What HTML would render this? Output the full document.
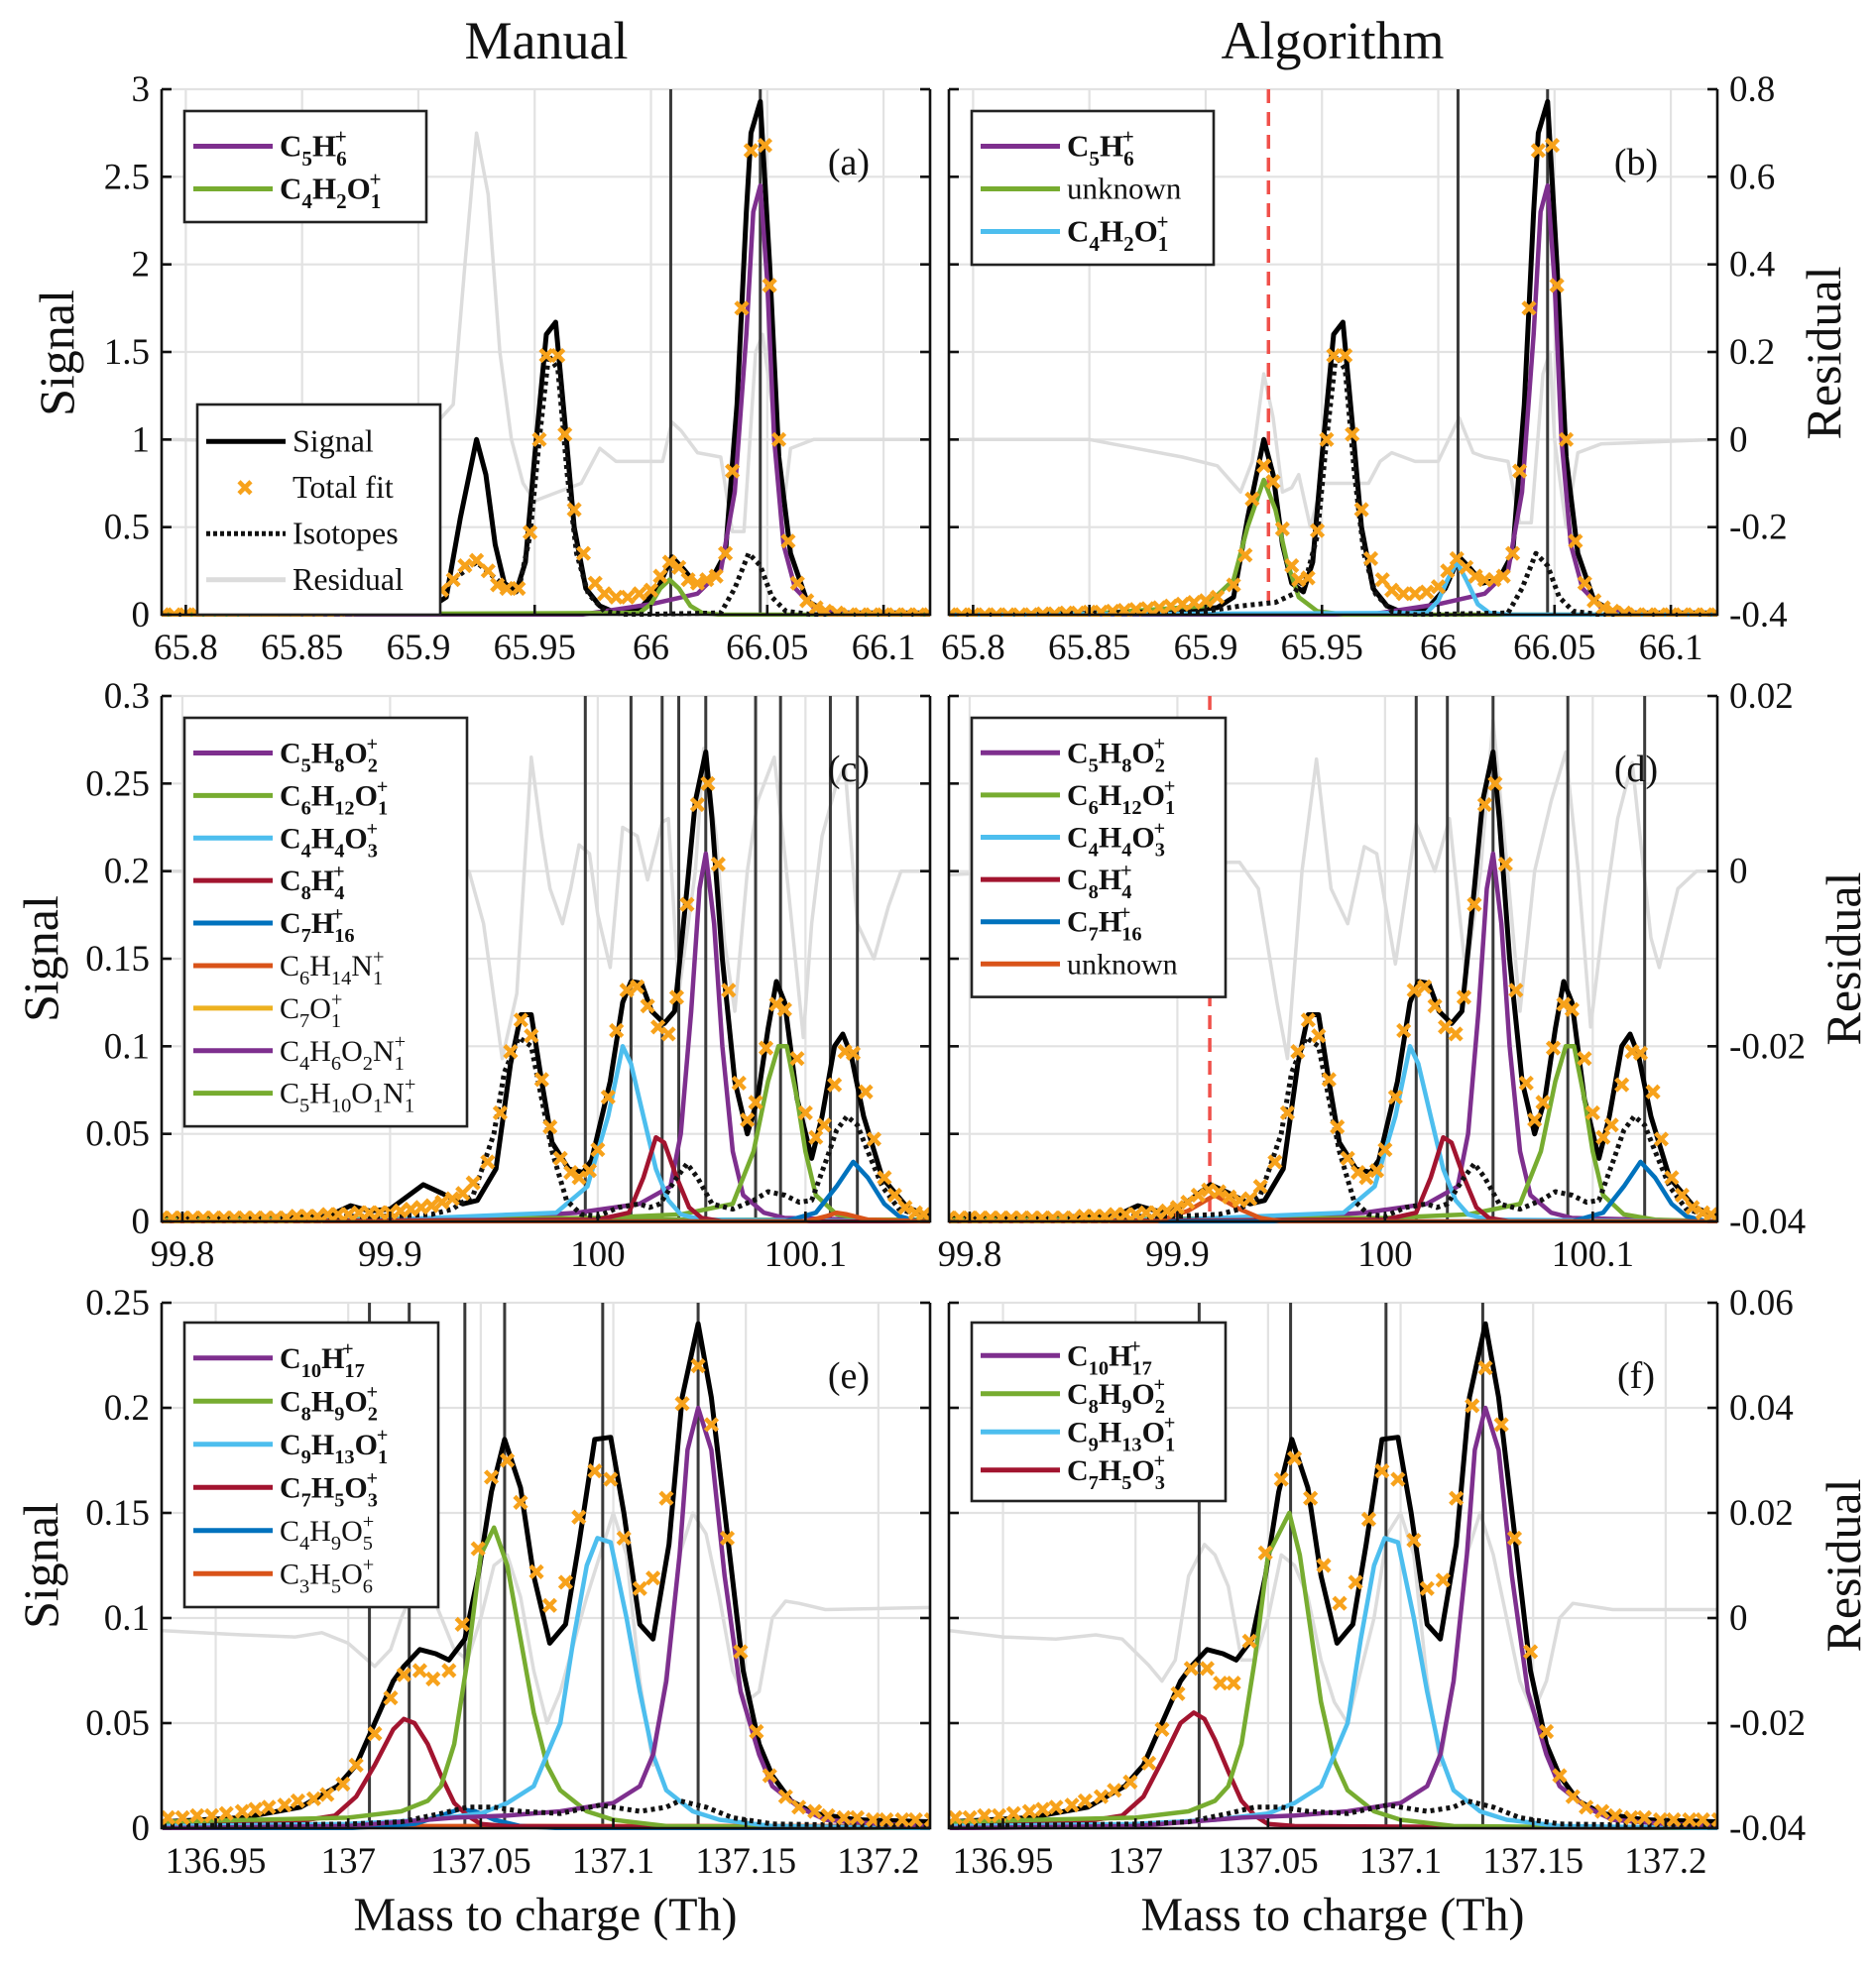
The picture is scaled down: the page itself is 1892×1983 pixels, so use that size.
<!DOCTYPE html>
<html><head><meta charset="utf-8">
<style>
html,body{margin:0;padding:0;background:#fff;}
svg{display:block;font-family:"Liberation Serif","DejaVu Serif",serif;}
svg text{font-family:"Liberation Serif","DejaVu Serif",serif;}
</style></head>
<body>
<svg id="chart" width="1892" height="1983" viewBox="0 0 1892 1983" xmlns="http://www.w3.org/2000/svg" font-family="Liberation Serif, DejaVu Serif, serif"></svg>
<script>
// ---------- DATA ----------
const xTicks1=[65.8,65.85,65.9,65.95,66,66.05,66.1];
const xLabels1=["65.8","65.85","65.9","65.95","66","66.05","66.1"];
const xTicks2=[99.8,99.9,100,100.1];
const xLabels2=["99.8","99.9","100","100.1"];
const xTicks3=[136.95,137,137.05,137.1,137.15,137.2];
const xLabels3=["136.95","137","137.05","137.1","137.15","137.2"];
const yTicks1=[0,0.5,1,1.5,2,2.5,3];
const yLabels1=["0","0.5","1","1.5","2","2.5","3"];
const rTicks1=[-0.4,-0.2,0,0.2,0.4,0.6,0.8];
const rLabels1=["-0.4","-0.2","0","0.2","0.4","0.6","0.8"];
const yTicks2=[0,0.05,0.1,0.15,0.2,0.25,0.3];
const yLabels2=["0","0.05","0.1","0.15","0.2","0.25","0.3"];
const rTicks2=[-0.04,-0.02,0,0.02];
const rLabels2=["-0.04","-0.02","0","0.02"];
const yTicks3=[0,0.05,0.1,0.15,0.2,0.25];
const yLabels3=["0","0.05","0.1","0.15","0.2","0.25"];
const rTicks3=[-0.04,-0.02,0,0.02,0.04,0.06];
const rLabels3=["-0.04","-0.02","0","0.02","0.04","0.06"];

// Row 1 (m/z 66)
const sig1=[[65.79,0],[65.88,0.01],[65.905,0.04],[65.912,0.1],[65.918,0.55],[65.925,1.0],[65.929,0.8],[65.933,0.4],[65.937,0.18],[65.942,0.13],[65.946,0.3],[65.95,0.9],[65.955,1.6],[65.959,1.67],[65.963,1.1],[65.967,0.5],[65.972,0.15],[65.978,0.05],[65.985,0.01],[65.995,0.03],[66.003,0.15],[66.009,0.33],[66.014,0.26],[66.019,0.18],[66.026,0.2],[66.032,0.35],[66.037,1.2],[66.041,2.3],[66.043,2.75],[66.047,2.93],[66.051,2.0],[66.055,0.9],[66.06,0.35],[66.067,0.08],[66.075,0.02],[66.085,0.01],[66.12,0.01]];
const fitA=[[65.79,0],[65.795,0],[65.8,0],[65.805,0],[65.81,0],[65.815,0],[65.82,0],[65.825,0],[65.83,0.005],[65.835,0.005],[65.84,0.01],[65.845,0.01],[65.85,0.015],[65.855,0.015],[65.86,0.02],[65.865,0.025],[65.87,0.03],[65.875,0.035],[65.88,0.04],[65.885,0.05],[65.89,0.06],[65.895,0.07],[65.9,0.08],[65.905,0.1],[65.91,0.14],[65.915,0.2],[65.92,0.28],[65.925,0.31],[65.93,0.25],[65.934,0.17],[65.938,0.15],[65.943,0.15],[65.948,0.47],[65.952,1.0],[65.955,1.48],[65.96,1.48],[65.963,1.03],[65.967,0.6],[65.971,0.35],[65.976,0.18],[65.98,0.12],[65.985,0.1],[65.99,0.1],[65.995,0.12],[66.0,0.14],[66.004,0.22],[66.008,0.3],[66.012,0.27],[66.016,0.2],[66.02,0.18],[66.024,0.2],[66.028,0.22],[66.032,0.35],[66.035,0.82],[66.039,1.75],[66.043,2.65],[66.049,2.68],[66.051,1.88],[66.055,1.0],[66.059,0.42],[66.063,0.18],[66.067,0.08],[66.071,0.04],[66.075,0.02],[66.08,0.01],[66.085,0],[66.09,0],[66.095,0],[66.1,0],[66.105,0],[66.11,0],[66.115,0],[66.12,0]];
const fitB=[[65.79,0],[65.795,0],[65.8,0],[65.805,0],[65.81,0],[65.815,0],[65.82,0],[65.825,0],[65.83,0.005],[65.835,0.005],[65.84,0.01],[65.845,0.01],[65.85,0.015],[65.855,0.015],[65.86,0.02],[65.865,0.025],[65.87,0.03],[65.875,0.035],[65.88,0.04],[65.885,0.05],[65.89,0.06],[65.895,0.07],[65.9,0.08],[65.905,0.1],[65.912,0.17],[65.917,0.34],[65.92,0.66],[65.925,0.85],[65.929,0.76],[65.933,0.49],[65.937,0.28],[65.94,0.2],[65.944,0.21],[65.948,0.48],[65.952,1.0],[65.955,1.48],[65.96,1.48],[65.963,1.03],[65.967,0.6],[65.971,0.32],[65.976,0.2],[65.98,0.14],[65.985,0.12],[65.99,0.12],[65.995,0.13],[66.0,0.16],[66.004,0.25],[66.008,0.32],[66.012,0.27],[66.016,0.22],[66.02,0.2],[66.024,0.2],[66.028,0.22],[66.032,0.35],[66.035,0.82],[66.039,1.75],[66.043,2.65],[66.049,2.68],[66.051,1.88],[66.055,1.0],[66.059,0.42],[66.063,0.18],[66.067,0.08],[66.071,0.04],[66.075,0.02],[66.08,0.01],[66.085,0],[66.09,0],[66.095,0],[66.1,0],[66.105,0],[66.11,0],[66.115,0],[66.12,0]];
const isoA=[[65.79,0],[65.88,0.03],[65.905,0.07],[65.915,0.2],[65.925,0.3],[65.932,0.22],[65.94,0.13],[65.944,0.2],[65.948,0.45],[65.952,1.0],[65.956,1.48],[65.96,1.4],[65.964,0.8],[65.968,0.35],[65.973,0.12],[65.98,0.02],[65.99,0],[66.03,0.01],[66.036,0.15],[66.042,0.35],[66.047,0.28],[66.052,0.1],[66.058,0.02],[66.07,0],[66.12,0]];
const isoB=[[65.79,0],[65.9,0.02],[65.915,0.05],[65.93,0.07],[65.938,0.12],[65.944,0.25],[65.948,0.45],[65.952,1.0],[65.956,1.48],[65.96,1.4],[65.964,0.8],[65.968,0.35],[65.973,0.12],[65.98,0.02],[65.99,0],[66.03,0.01],[66.036,0.15],[66.042,0.35],[66.047,0.28],[66.052,0.1],[66.058,0.02],[66.07,0],[66.12,0]];
const c5h6=[[65.79,0],[65.97,0],[65.98,0.02],[66.0,0.06],[66.02,0.12],[66.03,0.25],[66.036,0.7],[66.041,1.6],[66.044,2.3],[66.047,2.45],[66.05,1.9],[66.053,1.0],[66.057,0.4],[66.062,0.15],[66.07,0.04],[66.08,0.01],[66.12,0]];
const c4h2o=[[65.79,0],[65.995,0.01],[66.0,0.06],[66.004,0.15],[66.008,0.2],[66.012,0.15],[66.017,0.05],[66.022,0.01],[66.03,0],[66.12,0]];
const c4h2oB=[[65.79,0],[65.995,0.01],[66.0,0.08],[66.004,0.2],[66.008,0.3],[66.012,0.2],[66.017,0.06],[66.022,0.01],[66.03,0],[66.12,0]];
const unknownB=[[65.79,0],[65.85,0.005],[65.9,0.05],[65.912,0.2],[65.918,0.5],[65.925,0.77],[65.93,0.6],[65.935,0.3],[65.94,0.1],[65.948,0.02],[65.96,0],[66.12,0]];
const resA=[[65.79,0],[65.9,-0.008],[65.915,0.08],[65.92,0.4],[65.925,0.7],[65.93,0.56],[65.935,0.2],[65.94,0],[65.945,-0.1],[65.95,-0.14],[65.96,-0.12],[65.97,-0.1],[65.978,-0.02],[65.985,-0.05],[66.0,-0.05],[66.005,-0.05],[66.009,0.04],[66.013,0.02],[66.02,-0.03],[66.03,-0.04],[66.035,-0.21],[66.04,-0.21],[66.045,0.2],[66.048,0.24],[66.052,0.08],[66.056,-0.2],[66.06,-0.02],[66.07,0],[66.12,0]];
const resB=[[65.79,0],[65.85,0],[65.86,-0.01],[65.89,-0.04],[65.905,-0.06],[65.915,-0.12],[65.92,-0.05],[65.925,0.15],[65.929,0.05],[65.933,-0.12],[65.937,-0.11],[65.94,-0.08],[65.945,-0.2],[65.95,-0.1],[65.96,-0.1],[65.97,-0.1],[65.975,-0.05],[65.98,-0.03],[65.99,-0.05],[66.0,-0.05],[66.009,0.05],[66.015,-0.03],[66.02,-0.04],[66.03,-0.05],[66.035,-0.19],[66.04,-0.19],[66.045,0.15],[66.048,0.2],[66.05,0],[66.055,-0.2],[66.06,-0.03],[66.07,-0.01],[66.12,0]];
const vA=[66.0085,66.047];
const vB=[66.0085,66.047];
const redB=[65.927];

// Row 2 (m/z 100)
const sig2=[[99.79,0.002],[99.87,0.003],[99.881,0.009],[99.89,0.006],[99.9,0.007],[99.916,0.021],[99.925,0.016],[99.935,0.01],[99.942,0.012],[99.951,0.03],[99.958,0.09],[99.963,0.118],[99.968,0.118],[99.973,0.08],[99.978,0.045],[99.986,0.03],[99.993,0.028],[99.997,0.035],[100.006,0.08],[100.012,0.125],[100.016,0.137],[100.021,0.136],[100.026,0.12],[100.032,0.113],[100.037,0.12],[100.043,0.19],[100.047,0.24],[100.052,0.268],[100.055,0.23],[100.06,0.15],[100.066,0.08],[100.072,0.05],[100.077,0.07],[100.082,0.11],[100.086,0.137],[100.09,0.125],[100.096,0.07],[100.103,0.036],[100.108,0.06],[100.114,0.1],[100.118,0.107],[100.122,0.095],[100.128,0.06],[100.137,0.025],[100.149,0.008],[100.16,0.003]];
const fitC=[[99.79,0.002],[99.795,0.002],[99.8,0.002],[99.805,0.002],[99.81,0.002],[99.815,0.002],[99.82,0.002],[99.825,0.002],[99.83,0.002],[99.835,0.002],[99.84,0.002],[99.845,0.002],[99.85,0.002],[99.855,0.003],[99.86,0.003],[99.865,0.003],[99.87,0.004],[99.875,0.004],[99.88,0.004],[99.885,0.005],[99.89,0.005],[99.895,0.005],[99.9,0.005],[99.905,0.006],[99.91,0.007],[99.915,0.008],[99.92,0.009],[99.925,0.011],[99.93,0.013],[99.935,0.016],[99.94,0.022],[99.947,0.034],[99.953,0.062],[99.958,0.097],[99.963,0.115],[99.968,0.106],[99.973,0.081],[99.977,0.054],[99.982,0.036],[99.987,0.028],[99.991,0.025],[99.996,0.029],[100.0,0.041],[100.005,0.071],[100.009,0.109],[100.014,0.132],[100.019,0.134],[100.024,0.123],[100.029,0.111],[100.034,0.107],[100.038,0.128],[100.043,0.181],[100.048,0.238],[100.053,0.25],[100.058,0.204],[100.063,0.132],[100.068,0.079],[100.072,0.058],[100.076,0.068],[100.081,0.099],[100.086,0.124],[100.09,0.121],[100.096,0.093],[100.1,0.062],[100.105,0.048],[100.109,0.055],[100.114,0.078],[100.119,0.097],[100.123,0.096],[100.129,0.074],[100.133,0.047],[100.138,0.025],[100.143,0.015],[100.148,0.008],[100.153,0.005],[100.157,0.004]];
const fitD=[[99.79,0.002],[99.795,0.002],[99.8,0.002],[99.805,0.002],[99.81,0.002],[99.815,0.002],[99.82,0.002],[99.825,0.002],[99.83,0.002],[99.835,0.002],[99.84,0.002],[99.845,0.002],[99.85,0.002],[99.855,0.003],[99.86,0.003],[99.865,0.003],[99.87,0.004],[99.875,0.004],[99.88,0.004],[99.885,0.005],[99.89,0.005],[99.895,0.006],[99.9,0.008],[99.905,0.011],[99.91,0.015],[99.915,0.018],[99.92,0.017],[99.925,0.014],[99.93,0.012],[99.935,0.013],[99.94,0.02],[99.947,0.034],[99.953,0.062],[99.958,0.097],[99.963,0.115],[99.968,0.106],[99.973,0.081],[99.977,0.054],[99.982,0.036],[99.987,0.028],[99.991,0.025],[99.996,0.029],[100.0,0.041],[100.005,0.071],[100.009,0.109],[100.014,0.132],[100.019,0.134],[100.024,0.123],[100.029,0.111],[100.034,0.107],[100.038,0.128],[100.043,0.181],[100.048,0.238],[100.053,0.25],[100.058,0.204],[100.063,0.132],[100.068,0.079],[100.072,0.058],[100.076,0.068],[100.081,0.099],[100.086,0.124],[100.09,0.121],[100.096,0.093],[100.1,0.062],[100.105,0.048],[100.109,0.055],[100.114,0.078],[100.119,0.097],[100.123,0.096],[100.129,0.074],[100.133,0.047],[100.138,0.025],[100.143,0.015],[100.148,0.008],[100.153,0.005],[100.157,0.004]];
const iso2=[[99.79,0.002],[99.9,0.003],[99.92,0.004],[99.93,0.007],[99.94,0.015],[99.95,0.05],[99.955,0.085],[99.962,0.105],[99.968,0.1],[99.973,0.07],[99.978,0.04],[99.985,0.012],[99.992,0.004],[100.0,0.003],[100.01,0.008],[100.02,0.01],[100.025,0.008],[100.03,0.01],[100.038,0.025],[100.043,0.033],[100.048,0.025],[100.055,0.01],[100.065,0.007],[100.075,0.012],[100.082,0.017],[100.09,0.015],[100.097,0.011],[100.103,0.012],[100.11,0.035],[100.115,0.052],[100.12,0.06],[100.125,0.055],[100.13,0.04],[100.137,0.02],[100.145,0.007],[100.16,0.002]];
const c5h8o2=[[99.79,0],[99.95,0.002],[99.99,0.005],[100.02,0.01],[100.035,0.02],[100.04,0.05],[100.045,0.12],[100.049,0.19],[100.052,0.21],[100.056,0.17],[100.06,0.1],[100.065,0.04],[100.07,0.015],[100.08,0.005],[100.09,0.002],[100.16,0]];
const c4h4o3=[[99.79,0],[99.9,0.001],[99.98,0.005],[99.995,0.02],[100.005,0.06],[100.012,0.1],[100.016,0.09],[100.022,0.06],[100.028,0.03],[100.034,0.012],[100.04,0.004],[100.05,0.001],[100.16,0]];
const c8h4=[[99.79,0],[100.0,0.001],[100.015,0.005],[100.022,0.025],[100.028,0.048],[100.032,0.045],[100.038,0.025],[100.044,0.008],[100.05,0.002],[100.06,0],[100.16,0]];
const c7h16=[[99.79,0],[100.09,0],[100.105,0.005],[100.115,0.02],[100.123,0.034],[100.13,0.025],[100.138,0.01],[100.145,0.003],[100.155,0],[100.16,0]];
const c6h12o=[[99.79,0.001],[100.0,0.002],[100.04,0.004],[100.065,0.01],[100.075,0.04],[100.082,0.08],[100.087,0.1],[100.091,0.1],[100.096,0.07],[100.1,0.04],[100.105,0.015],[100.115,0.004],[100.13,0.001],[100.16,0]];
const c6h14n=[[99.79,0],[100.1,0],[100.11,0.003],[100.115,0.005],[100.12,0.004],[100.13,0.001],[100.16,0]];
const c7o=[[99.79,0.0005],[100.16,0.0005]];
const c4h6o2n=[[99.79,0.0008],[100.16,0.0008]];
const c5h10on=[[99.79,0.001],[100.16,0.001]];
const unknownD=[[99.79,0],[99.89,0],[99.905,0.006],[99.918,0.015],[99.93,0.007],[99.94,0.002],[99.95,0],[100.16,0]];
const resC=[[99.79,0],[99.938,0],[99.945,-0.006],[99.954,-0.0214],[99.961,-0.014],[99.968,0.013],[99.973,0.004],[99.977,-0.002],[99.983,-0.006],[99.987,-0.002],[99.991,0.003],[99.996,0.002],[100.0,-0.005],[100.006,-0.011],[100.012,0.005],[100.019,0.004],[100.024,-0.001],[100.031,0.0056],[100.034,0.006],[100.039,-0.014],[100.047,0],[100.051,0.014],[100.057,0.004],[100.061,-0.008],[100.066,-0.016],[100.072,0],[100.077,0.008],[100.085,0.013],[100.09,0.002],[100.099,-0.019],[100.103,-0.006],[100.108,0.004],[100.115,0.01],[100.119,0.012],[100.125,-0.006],[100.133,-0.01],[100.14,-0.004],[100.146,0],[100.16,0]];
const resD=[[99.79,-0.0004],[99.925,0.001],[99.93,0.001],[99.939,-0.002],[99.948,-0.015],[99.953,-0.0214],[99.96,0],[99.967,0.0128],[99.974,-0.002],[99.982,-0.006],[99.99,0.0028],[99.996,0.002],[100.005,-0.0106],[100.015,0.0054],[100.024,0],[100.031,0.006],[100.039,-0.012],[100.046,0],[100.052,0.0172],[100.059,0],[100.065,-0.016],[100.072,0],[100.08,0.008],[100.087,0.0136],[100.093,0],[100.099,-0.0178],[100.106,-0.004],[100.112,0.006],[100.119,0.0124],[100.128,-0.0076],[100.132,-0.011],[100.141,-0.002],[100.15,0],[100.16,0]];
const vC=[99.994,100.016,100.031,100.039,100.052,100.076,100.088,100.112,100.125];
const vD=[100.015,100.03,100.052,100.088,100.125];
const redD=[99.9156];

// Row 3 (m/z 137)
const sig3=[[136.93,0.003],[136.96,0.005],[136.982,0.01],[136.996,0.02],[137.003,0.03],[137.01,0.05],[137.017,0.07],[137.021,0.077],[137.027,0.085],[137.033,0.083],[137.038,0.08],[137.044,0.09],[137.049,0.12],[137.054,0.16],[137.059,0.185],[137.065,0.162],[137.07,0.12],[137.076,0.088],[137.082,0.097],[137.087,0.135],[137.093,0.185],[137.099,0.186],[137.104,0.15],[137.11,0.097],[137.115,0.09],[137.121,0.135],[137.126,0.205],[137.132,0.24],[137.137,0.205],[137.143,0.14],[137.149,0.075],[137.155,0.04],[137.16,0.025],[137.167,0.013],[137.176,0.007],[137.192,0.004],[137.22,0.003]];
const fitE=[[136.932,0.005],[136.9375,0.005],[136.943,0.006],[136.9485,0.006],[136.954,0.007],[136.96,0.008],[136.965,0.009],[136.97,0.01],[136.976,0.011],[136.981,0.013],[136.987,0.014],[136.992,0.016],[136.998,0.021],[137.003,0.03],[137.01,0.045],[137.016,0.062],[137.021,0.073],[137.027,0.075],[137.032,0.071],[137.038,0.075],[137.043,0.097],[137.049,0.133],[137.054,0.167],[137.06,0.175],[137.065,0.155],[137.071,0.122],[137.076,0.106],[137.082,0.117],[137.087,0.148],[137.093,0.17],[137.099,0.166],[137.104,0.138],[137.11,0.114],[137.115,0.119],[137.12,0.157],[137.126,0.202],[137.132,0.22],[137.137,0.192],[137.143,0.138],[137.148,0.084],[137.154,0.046],[137.159,0.025],[137.165,0.015],[137.17,0.01],[137.176,0.008],[137.181,0.006],[137.187,0.005],[137.192,0.005],[137.198,0.004],[137.203,0.004],[137.209,0.004],[137.214,0.004],[137.22,0.004]];
const fitF=[[136.932,0.005],[136.9375,0.005],[136.943,0.006],[136.9485,0.006],[136.954,0.007],[136.96,0.008],[136.965,0.009],[136.97,0.01],[136.976,0.011],[136.981,0.013],[136.987,0.015],[136.992,0.018],[136.998,0.022],[137.005,0.031],[137.01,0.047],[137.016,0.064],[137.021,0.076],[137.027,0.076],[137.032,0.069],[137.037,0.069],[137.043,0.089],[137.049,0.131],[137.055,0.166],[137.06,0.176],[137.066,0.157],[137.071,0.125],[137.077,0.107],[137.083,0.117],[137.088,0.147],[137.093,0.17],[137.099,0.166],[137.105,0.137],[137.11,0.114],[137.116,0.118],[137.121,0.157],[137.127,0.201],[137.132,0.219],[137.138,0.192],[137.143,0.138],[137.149,0.084],[137.155,0.046],[137.16,0.025],[137.165,0.015],[137.17,0.01],[137.176,0.008],[137.181,0.006],[137.187,0.005],[137.192,0.005],[137.198,0.004],[137.203,0.004],[137.209,0.004],[137.214,0.004],[137.22,0.004]];
const iso3=[[136.93,0.001],[137.0,0.002],[137.02,0.003],[137.035,0.007],[137.045,0.01],[137.055,0.01],[137.065,0.008],[137.08,0.007],[137.095,0.011],[137.105,0.009],[137.11,0.008],[137.12,0.01],[137.125,0.013],[137.135,0.01],[137.145,0.005],[137.16,0.002],[137.22,0.001]];
const c10h17=[[136.93,0],[137.0,0.001],[137.04,0.005],[137.06,0.006],[137.08,0.008],[137.1,0.012],[137.11,0.02],[137.115,0.035],[137.12,0.07],[137.125,0.13],[137.128,0.18],[137.132,0.2],[137.137,0.18],[137.142,0.12],[137.148,0.065],[137.155,0.035],[137.16,0.02],[137.17,0.01],[137.18,0.004],[137.2,0.002],[137.22,0.001]];
const c8h9o2=[[136.93,0.003],[137.0,0.005],[137.02,0.008],[137.03,0.013],[137.035,0.02],[137.04,0.04],[137.045,0.08],[137.05,0.13],[137.055,0.143],[137.06,0.125],[137.065,0.09],[137.07,0.055],[137.075,0.03],[137.08,0.018],[137.09,0.008],[137.1,0.004],[137.12,0.001],[137.22,0]];
const c8h9o2F=[[136.93,0.003],[137.0,0.005],[137.02,0.008],[137.03,0.013],[137.035,0.02],[137.04,0.04],[137.045,0.08],[137.05,0.13],[137.058,0.15],[137.062,0.13],[137.066,0.095],[137.07,0.06],[137.075,0.032],[137.08,0.018],[137.09,0.008],[137.1,0.004],[137.12,0.001],[137.22,0]];
const c9h13o=[[136.93,0.001],[137.0,0.002],[137.03,0.004],[137.05,0.007],[137.06,0.012],[137.07,0.02],[137.08,0.05],[137.085,0.09],[137.09,0.125],[137.094,0.138],[137.099,0.136],[137.105,0.1],[137.11,0.065],[137.115,0.035],[137.12,0.018],[137.13,0.008],[137.14,0.004],[137.16,0.001],[137.22,0]];
const c7h5o3=[[136.93,0.001],[136.98,0.003],[136.995,0.006],[137.003,0.015],[137.01,0.03],[137.017,0.047],[137.021,0.052],[137.025,0.05],[137.03,0.04],[137.035,0.025],[137.04,0.012],[137.045,0.006],[137.05,0.002],[137.06,0.001],[137.22,0]];
const c7h5o3F=[[136.93,0.001],[136.98,0.003],[136.995,0.006],[137.003,0.015],[137.01,0.032],[137.017,0.05],[137.022,0.055],[137.026,0.052],[137.03,0.042],[137.035,0.027],[137.04,0.013],[137.045,0.006],[137.05,0.002],[137.06,0.001],[137.22,0]];
const c4h9o5=[[136.93,0],[137.0,0],[137.025,0.002],[137.035,0.006],[137.042,0.009],[137.048,0.008],[137.055,0.004],[137.065,0.001],[137.08,0],[137.22,0]];
const c3h5o6=[[136.93,0.001],[137.22,0.001]];
const resE=[[136.93,-0.0024],[136.96,-0.0032],[136.98,-0.0036],[136.99,-0.0028],[137.0,-0.0048],[137.01,-0.0092],[137.016,-0.006],[137.02,0],[137.027,0.008],[137.032,0.004],[137.04,-0.006],[137.045,-0.008],[137.05,0],[137.055,0.01],[137.06,0.012],[137.065,0.004],[137.07,-0.01],[137.075,-0.02],[137.08,-0.014],[137.09,0.004],[137.1,0.02],[137.105,0.012],[137.11,-0.012],[137.115,-0.028],[137.12,-0.01],[137.125,0.012],[137.13,0.02],[137.135,0.016],[137.14,0.004],[137.145,-0.01],[137.15,-0.016],[137.155,-0.014],[137.16,0],[137.165,0.0032],[137.17,0.0028],[137.18,0.0016],[137.22,0.002]];
const resF=[[136.93,-0.0024],[136.95,-0.0036],[136.97,-0.004],[136.985,-0.0032],[136.995,-0.004],[137.005,-0.009],[137.01,-0.012],[137.015,-0.008],[137.02,0.008],[137.026,0.014],[137.03,0.012],[137.035,0.006],[137.04,-0.008],[137.045,-0.008],[137.05,0],[137.055,0.012],[137.06,0.01],[137.065,0.004],[137.07,-0.008],[137.075,-0.016],[137.08,-0.02],[137.09,0],[137.095,0.016],[137.1,0.02],[137.105,0.012],[137.11,-0.012],[137.115,-0.028],[137.12,-0.012],[137.125,0.012],[137.13,0.02],[137.135,0.012],[137.14,0],[137.145,-0.012],[137.15,-0.018],[137.155,-0.012],[137.16,0],[137.165,0.0028],[137.17,0.0024],[137.18,0.0016],[137.22,0.0016]];
const vE=[137.008,137.023,137.044,137.059,137.096,137.132];
const vF=[137.024,137.0585,137.0945,137.131];

// ---------- DRAWING ----------
const NS='http://www.w3.org/2000/svg';
const svg=document.getElementById('chart');
const FONT='Liberation Serif, DejaVu Serif, serif';
const PURPLE='#7E2F8E',GREEN='#77AC30',CYAN='#4DBEEE',DRED='#A2142F',BLUE='#0072BD',ORANGE='#D95319',YELLOW='#EDB120',FITC='#F7A21B';
function mk(tag,attrs,parent){const e=document.createElementNS(NS,tag);for(const k in attrs)e.setAttribute(k,attrs[k]);(parent||svg).appendChild(e);return e;}
function txt(parent,x,y,s,size,anchor,extra){const t=mk('text',{x:x,y:y,'font-size':size,'font-family':FONT,'text-anchor':anchor||'start',fill:'#111'},parent);if(extra)for(const k in extra)t.setAttribute(k,extra[k]);t.textContent=s;return t;}

function formula(parent,x,y,spec,bold,size){
  const t=mk('text',{x:x,y:y,'font-size':size,'font-family':FONT,fill:'#111'},parent);
  if(bold)t.setAttribute('font-weight','bold');
  if(spec.indexOf('+')<0){t.textContent=spec;return t;}
  const body=spec.replace('+','');
  const toks=body.match(/[A-Z][a-z]?\d*/g);
  const sub=size*0.68,down=size*0.3;let lastDigits=0;
  toks.forEach((tk,i)=>{
    const m=tk.match(/([A-Z][a-z]?)(\d*)/);
    const a=mk('tspan',{},t);a.textContent=m[1];
    if(i>0&&lastDigits>0)a.setAttribute('dy',-down);
    if(m[2]){const b=mk('tspan',{'font-size':sub,dy:down},t);b.textContent=m[2];lastDigits=m[2].length;}else lastDigits=0;
  });
  const p=mk('tspan',{'font-size':sub},t);
  if(lastDigits>0){p.setAttribute('dx',-(lastDigits*sub*(bold?0.56:0.5)));p.setAttribute('dy',-size*0.72);}
  else p.setAttribute('dy',-size*0.42);
  p.textContent='+';
  return t;
}

function panel(p){
  const g=mk('g',{});
  
  
  const x0=p.x0,y0=p.y0,w=775,h=530;
  const sx=v=>x0+(v-p.xd[0])/(p.xd[1]-p.xd[0])*w;
  const sy=v=>y0+h-(v-p.yd[0])/(p.yd[1]-p.yd[0])*h;
  const sr=v=>y0+h-(v-p.rd[0])/(p.rd[1]-p.rd[0])*h;
  const cid='clip-'+p.name;
  const cp=mk('clipPath',{id:cid},g);mk('rect',{x:x0,y:y0-2,width:w,height:h+4},cp);
  const grid=mk('g',{stroke:'#e2e2e2','stroke-width':2.2},g);
  
  
  p.xt.forEach(v=>mk('line',{x1:sx(v),x2:sx(v),y1:y0,y2:y0+h},grid));
  p.yt.forEach(v=>mk('line',{x1:x0,x2:x0+w,y1:sy(v),y2:sy(v)},grid));
  const plot=mk('g',{'clip-path':'url(#'+cid+')'},g);
  const line=(d,f,attrs,name)=>{const pl=mk('polyline',Object.assign({fill:'none','stroke-linejoin':'round',points:d.map(q=>sx(q[0]).toFixed(1)+','+f(q[1]).toFixed(1)).join(' ')},attrs),plot);return pl;};
  line(p.res,sr,{stroke:'#dcdcdc','stroke-width':3.5},'residual-line');
  p.vl.forEach(v=>{const l=mk('line',{x1:sx(v),x2:sx(v),y1:y0,y2:y0+h,stroke:'#3a3a3a','stroke-width':3},plot);});
  (p.red||[]).forEach(v=>{const l=mk('line',{x1:sx(v),x2:sx(v),y1:y0,y2:y0+h,stroke:'#F0504A','stroke-width':3.5,'stroke-dasharray':'14 9'},plot);});
  line(p.sig,sy,{stroke:'#000','stroke-width':5},'signal-line');
  p.comps.forEach(c=>line(c[0],sy,{stroke:c[1],'stroke-width':4.5},'component-'+c[2]));
  line(p.iso,sy,{stroke:'#111','stroke-width':5,'stroke-dasharray':'4 4'},'isotopes-line');
  const mg=mk('g',{stroke:FITC,'stroke-width':4.5,'stroke-linecap':'butt'},plot);
  
  
  p.fit.forEach(q=>{const cx=sx(q[0]),cy=sy(q[1]),r=6;mk('path',{d:`M${cx-r},${cy-r}L${cx+r},${cy+r}M${cx-r},${cy+r}L${cx+r},${cy-r}`},mg);});
  const ax=mk('g',{stroke:'#111','stroke-width':2.6,fill:'none'},g);
  
  
  mk('path',{d:`M${x0},${y0}V${y0+h}H${x0+w}V${y0}`},ax);
  p.yt.forEach(v=>{mk('line',{x1:x0,x2:x0+10,y1:sy(v),y2:sy(v)},ax);if(!p.right)mk('line',{x1:x0+w,x2:x0+w-10,y1:sy(v),y2:sy(v)},ax);});
  if(p.right)p.rt.forEach(v=>mk('line',{x1:x0+w,x2:x0+w-10,y1:sr(v),y2:sr(v)},ax));
  p.xt.forEach(v=>mk('line',{x1:sx(v),x2:sx(v),y1:y0+h,y2:y0+h-10},ax));
  const tl=mk('g',{},g);
  
  
  p.xt.forEach((v,i)=>txt(tl,sx(v),y0+h+45,p.xl[i],37,'middle'));
  if(!p.right)p.yt.forEach((v,i)=>txt(tl,x0-12,sy(v)+12,p.yl[i],37,'end'));
  else p.rt.forEach((v,i)=>txt(tl,x0+w+12,sr(v)+12,p.rl[i],37,'start'));
  const pl=txt(g,x0+w-82,y0+86,p.label,38,'middle');
  
  
  return g;
}

function legend(x,y,w,entries,step,size,name){
  const g=mk('g',{});
  
  
  const h=entries.length*step+26;
  mk('rect',{x:x,y:y,width:w,height:h,fill:'#fff',stroke:'#222','stroke-width':2.6},g);
  entries.forEach((e,i)=>{
    const cy=y+13+step*(i+0.5)+1;
    const it=mk('g',{},g);
    
    
    if(e.type==='marker'){const cx=x+48;mk('path',{d:`M${cx-6},${cy-6}L${cx+6},${cy+6}M${cx-6},${cy+6}L${cx+6},${cy-6}`,stroke:FITC,'stroke-width':4.5},it);}
    else mk('line',{x1:x+9,x2:x+89,y1:cy,y2:cy,stroke:e.color,'stroke-width':5,'stroke-dasharray':e.type==='dot'?'4 3':'none'},it);
    formula(it,x+96,cy+10,e.label,e.bold,size);
  });
}

const L=163,R=957,T1=90,T2=702,T3=1314;
const X1=[65.7896,66.12],X2=[99.79,100.16],X3=[136.9296,137.2195];
panel({name:'panel-a',label:'(a)',x0:L,y0:T1,xd:X1,yd:[0,3],rd:[-0.4,0.8],xt:xTicks1,xl:xLabels1,yt:yTicks1,yl:yLabels1,rt:rTicks1,rl:rLabels1,right:false,
  sig:sig1,fit:fitA,iso:isoA,res:resA,vl:vA,comps:[[c5h6,PURPLE,'c5h6'],[c4h2o,GREEN,'c4h2o']]});
panel({name:'panel-b',label:'(b)',x0:R,y0:T1,xd:X1,yd:[0,3],rd:[-0.4,0.8],xt:xTicks1,xl:xLabels1,yt:yTicks1,yl:yLabels1,rt:rTicks1,rl:rLabels1,right:true,
  sig:sig1,fit:fitB,iso:isoB,res:resB,vl:vB,red:redB,comps:[[c5h6,PURPLE,'c5h6'],[unknownB,GREEN,'unknown'],[c4h2oB,CYAN,'c4h2o']]});
panel({name:'panel-c',label:'(c)',x0:L,y0:T2,xd:X2,yd:[0,0.3],rd:[-0.04,0.02],xt:xTicks2,xl:xLabels2,yt:yTicks2,yl:yLabels2,rt:rTicks2,rl:rLabels2,right:false,
  sig:sig2,fit:fitC,iso:iso2,res:resC,vl:vC,comps:[[c7o,YELLOW,'c7o'],[c4h6o2n,PURPLE,'c4h6o2n'],[c5h10on,GREEN,'c5h10on'],[c5h8o2,PURPLE,'c5h8o2'],[c6h12o,GREEN,'c6h12o'],[c4h4o3,CYAN,'c4h4o3'],[c8h4,DRED,'c8h4'],[c7h16,BLUE,'c7h16'],[c6h14n,ORANGE,'c6h14n']]});
panel({name:'panel-d',label:'(d)',x0:R,y0:T2,xd:X2,yd:[0,0.3],rd:[-0.04,0.02],xt:xTicks2,xl:xLabels2,yt:yTicks2,yl:yLabels2,rt:rTicks2,rl:rLabels2,right:true,
  sig:sig2,fit:fitD,iso:iso2,res:resD,vl:vD,red:redD,comps:[[c5h8o2,PURPLE,'c5h8o2'],[c6h12o,GREEN,'c6h12o'],[c4h4o3,CYAN,'c4h4o3'],[c8h4,DRED,'c8h4'],[c7h16,BLUE,'c7h16'],[unknownD,ORANGE,'unknown']]});
panel({name:'panel-e',label:'(e)',x0:L,y0:T3,xd:X3,yd:[0,0.25],rd:[-0.04,0.06],xt:xTicks3,xl:xLabels3,yt:yTicks3,yl:yLabels3,rt:rTicks3,rl:rLabels3,right:false,
  sig:sig3,fit:fitE,iso:iso3,res:resE,vl:vE,comps:[[c3h5o6,ORANGE,'c3h5o6'],[c4h9o5,BLUE,'c4h9o5'],[c7h5o3,DRED,'c7h5o3'],[c8h9o2,GREEN,'c8h9o2'],[c9h13o,CYAN,'c9h13o'],[c10h17,PURPLE,'c10h17']]});
panel({name:'panel-f',label:'(f)',x0:R,y0:T3,xd:X3,yd:[0,0.25],rd:[-0.04,0.06],xt:xTicks3,xl:xLabels3,yt:yTicks3,yl:yLabels3,rt:rTicks3,rl:rLabels3,right:true,
  sig:sig3,fit:fitF,iso:iso3,res:resF,vl:vF,comps:[[c7h5o3F,DRED,'c7h5o3'],[c8h9o2F,GREEN,'c8h9o2'],[c9h13o,CYAN,'c9h13o'],[c10h17,PURPLE,'c10h17']]});

legend(186,112,244,[{label:'C5H6+',color:PURPLE,bold:true},{label:'C4H2O1+',color:GREEN,bold:true}],43,31,'legend-a');
legend(199,408,245,[{label:'Signal',color:'#000'},{label:'Total fit',type:'marker'},{label:'Isotopes',color:'#111',type:'dot'},{label:'Residual',color:'#dcdcdc'}],46.5,32,'legend-signal');
legend(980,112,244,[{label:'C5H6+',color:PURPLE,bold:true},{label:'unknown',color:GREEN},{label:'C4H2O1+',color:CYAN,bold:true}],43,31,'legend-b');
legend(186,724,285,[{label:'C5H8O2+',color:PURPLE,bold:true},{label:'C6H12O1+',color:GREEN,bold:true},{label:'C4H4O3+',color:CYAN,bold:true},{label:'C8H4+',color:DRED,bold:true},{label:'C7H16+',color:BLUE,bold:true},{label:'C6H14N1+',color:ORANGE},{label:'C7O1+',color:YELLOW},{label:'C4H6O2N1+',color:PURPLE},{label:'C5H10O1N1+',color:GREEN}],42.9,30,'legend-c');
legend(980,724,256,[{label:'C5H8O2+',color:PURPLE,bold:true},{label:'C6H12O1+',color:GREEN,bold:true},{label:'C4H4O3+',color:CYAN,bold:true},{label:'C8H4+',color:DRED,bold:true},{label:'C7H16+',color:BLUE,bold:true},{label:'unknown',color:ORANGE}],42.6,30,'legend-d');
legend(186,1334,256,[{label:'C10H17+',color:PURPLE,bold:true},{label:'C8H9O2+',color:GREEN,bold:true},{label:'C9H13O1+',color:CYAN,bold:true},{label:'C7H5O3+',color:DRED,bold:true},{label:'C4H9O5+',color:BLUE},{label:'C3H5O6+',color:ORANGE}],43.5,30,'legend-e');
legend(980,1334,256,[{label:'C10H17+',color:PURPLE,bold:true},{label:'C8H9O2+',color:GREEN,bold:true},{label:'C9H13O1+',color:CYAN,bold:true},{label:'C7H5O3+',color:DRED,bold:true}],38.5,30,'legend-f');

let t;
t=txt(svg,551,59,'Manual',54,'middle');


t=txt(svg,1344,59,'Algorithm',54,'middle');


[[58,356],[42,967],[42,1579]].forEach(q=>{const s=txt(svg,q[0]+16,q[1],'Signal',50,'middle',{transform:`rotate(-90 ${q[0]+16} ${q[1]})`});

});
[[1840,356],[1860,967],[1860,1579]].forEach(q=>{const s=txt(svg,q[0]+16,q[1],'Residual',50,'middle',{transform:`rotate(-90 ${q[0]+16} ${q[1]})`});

});
[550,1344].forEach(x=>{const s=txt(svg,x,1947,'Mass to charge (Th)',48,'middle');

});
</script>
</body></html>
